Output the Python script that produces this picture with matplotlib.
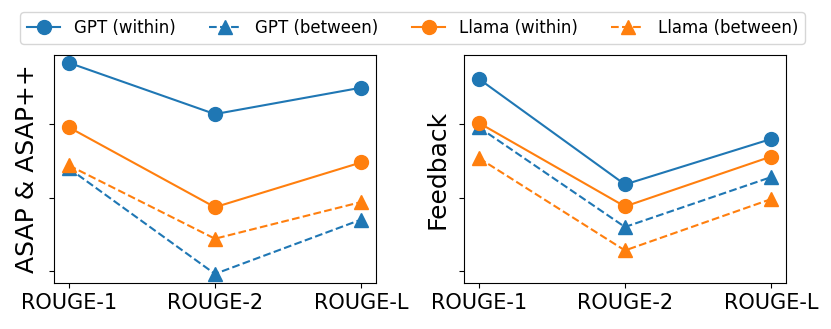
import matplotlib.pyplot as plt

metrics = ['ROUGE-1', 'ROUGE-2', 'ROUGE-L']
series = ['GPT (within)', 'GPT (between)', 'Llama (within)', 'Llama (between)']

# ASAP & ASAP++ panel
asap_gpt_within = [0.342, 0.307, 0.325]
asap_gpt_between = [0.270, 0.198, 0.235]
asap_llama_within = [0.298, 0.2435, 0.274]
asap_llama_between = [0.272, 0.222, 0.247]

# Feedback panel
fb_gpt_within = [0.331, 0.259, 0.290]
fb_gpt_between = [0.298, 0.230, 0.264]
fb_llama_within = [0.301, 0.244, 0.278]
fb_llama_between = [0.277, 0.214, 0.249]

yticks = [0.20, 0.25, 0.30]

fig = plt.figure(figsize=(8.31, 3.29), dpi=100)
ax1 = fig.add_axes([0.0653, 0.1398, 0.3867, 0.693])
ax2 = fig.add_axes([0.5587, 0.1398, 0.3867, 0.693])

blue = '#1f77b4'
orange = '#ff7f0e'

for ax, data, lab in [
    (ax1, [asap_gpt_within, asap_gpt_between, asap_llama_within, asap_llama_between], 'ASAP & ASAP++'),
    (ax2, [fb_gpt_within, fb_gpt_between, fb_llama_within, fb_llama_between], 'Feedback'),
]:
    ax.plot(metrics, data[0], color=blue, ls='-', marker='o', ms=10, lw=1.5, label=series[0])
    ax.plot(metrics, data[1], color=blue, ls='--', marker='^', ms=10, lw=1.5, label=series[1])
    ax.plot(metrics, data[2], color=orange, ls='-', marker='o', ms=10, lw=1.5, label=series[2])
    ax.plot(metrics, data[3], color=orange, ls='--', marker='^', ms=10, lw=1.5, label=series[3])
    ax.set_ylim(0.1918, 0.3473)
    ax.set_xlim(-0.1, 2.1)
    ax.set_yticks(yticks)
    ax.set_yticklabels([])
    ax.tick_params(axis='x', labelsize=15)
    ax.set_ylabel(lab, fontsize=18)

handles, labels = ax1.get_legend_handles_labels()
fig.legend(handles, labels, loc='center', bbox_to_anchor=(0.4964, 0.915), ncol=4, fontsize=12)

fig.savefig('out.png', dpi=100)
